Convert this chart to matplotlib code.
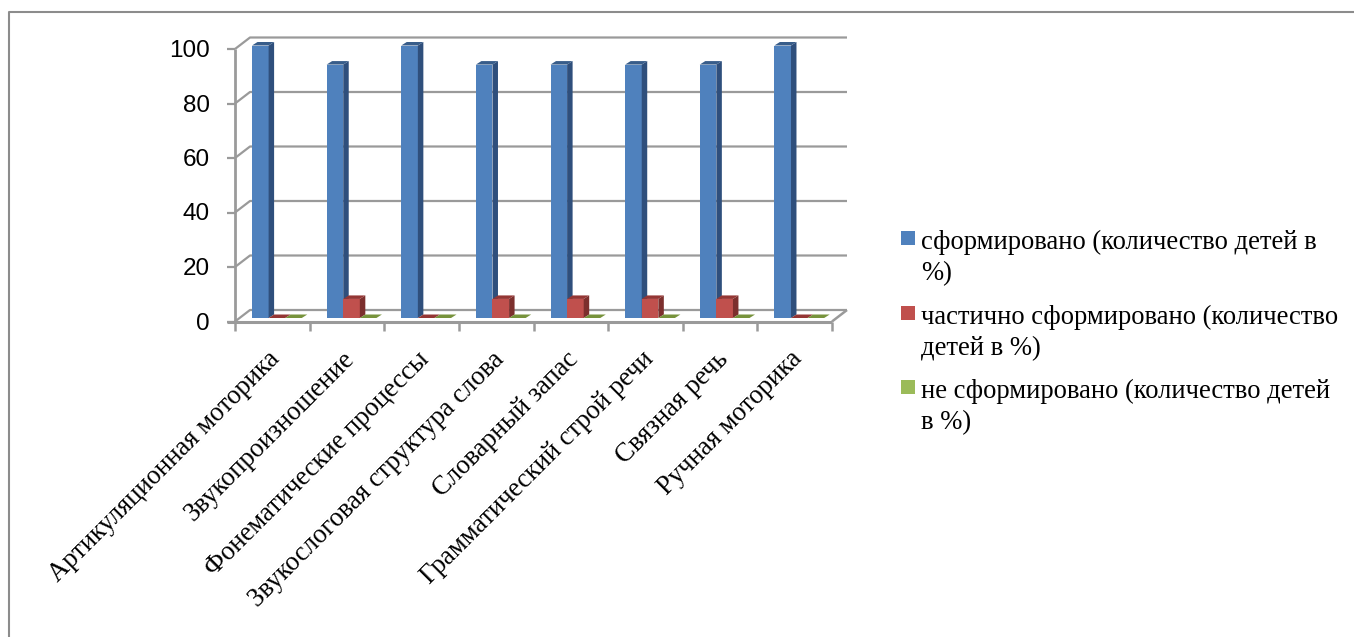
#!/usr/bin/env python
import matplotlib
matplotlib.use('Agg')
import matplotlib.pyplot as plt
from matplotlib.patches import Polygon, Rectangle
from matplotlib.transforms import Affine2D

W, H = 1354, 637

categories = ['Артикуляционная моторика', 'Звукопроизношение', 'Фонематические процессы',
              'Звукослоговая структура слова', 'Словарный запас', 'Грамматический строй речи',
              'Связная речь', 'Ручная моторика']
formed = [100, 93, 100, 93, 93, 93, 93, 100]
partly = [0, 7, 0, 7, 7, 7, 7, 0]
not_formed = [0, 0, 0, 0, 0, 0, 0, 0]
yticks = [0, 20, 40, 60, 80, 100]
legend_labels = ['сформировано (количество детей в\n%)',
                 'частично сформировано (количество\nдетей в %)',
                 'не сформировано (количество детей\nв %)']

front = ['#4F81BD', '#C0504D', '#9BBB59']
side = ['#2F4F7C', '#7C2F2D', '#64793A']
top = ['#385D8A', '#943634', '#77933C']
GREY = '#9A9A9A'

fig = plt.figure(figsize=(W / 100, H / 100), dpi=100, facecolor='white')
px = Affine2D().scale(1, -1).translate(0, H)  # top-left pixel coordinates

# image border
fig.add_artist(plt.Line2D([9, 9, W], [H, 12, 12], transform=px, color='#8C8C8C', lw=1.5))

x0, x1, y0, y1 = 235, 832, 321.5, 49
ax = fig.add_axes([x0 / W, 1 - y0 / H, (x1 - x0) / W, (y0 - y1) / H])
ax.set_xlim(0, len(categories))
ax.set_ylim(0, 100)
ax.axis('off')

step = (x1 - x0) / len(categories)
per_val = (y0 - y1) / 100
DX, DY = 15 / step, 11.5 / per_val   # wall depth in data units
dx, dy = 5.5 / step, 3.5 / per_val   # bar depth
base = 3.5 / per_val                 # front of bar sits above the front edge of the floor
bar_w = 16.6 / step
start = 17 / step


def line(xs, ys, lw=2, z=1):
    ax.plot(xs, ys, color=GREY, lw=lw, clip_on=False, zorder=z, solid_capstyle='butt')


# walls
for v in yticks:
    line([0, DX, len(categories) + DX], [v, v + DY, v + DY], lw=1.6)
    line([-8 / step, 0], [v, v], lw=1.6)
line([0, 0], [0, 100])
line([len(categories), len(categories) + DX], [0, DY], lw=1.8)
line([-8 / step, len(categories)], [0, 0], lw=2.2, z=6)
for i in range(len(categories) + 1):
    line([i, i], [0, -9 / per_val], lw=1.8)

for s, values in enumerate([formed, partly, not_formed]):
    for i, v in enumerate(values):
        left = i + start + s * bar_w
        right = left + bar_w
        z = 5 + s * 0.1 + i
        if v > 0:
            ax.bar(left, v, bar_w, bottom=base, align='edge', color=front[s],
                   linewidth=0, zorder=z, clip_on=False)
            ax.add_patch(Polygon([(right, base), (right + dx, base + dy), (right + dx, base + v + dy),
                                  (right, base + v)], closed=True, fc=side[s], ec='none',
                                 zorder=z, clip_on=False))
        ax.add_patch(Polygon([(left, base + v), (right, base + v), (right + dx, base + v + dy),
                              (left + dx, base + v + dy)], closed=True, fc=top[s], ec='none',
                             zorder=z, clip_on=False))

for v in yticks:
    ax.annotate(str(v), (0, v), xytext=(-25, -2), textcoords='offset pixels', ha='right', va='center',
                fontsize=17.5, family='Liberation Sans', color='black', annotation_clip=False)

for i, c in enumerate(categories):
    ax.annotate(c, (i + 0.5, 0), xytext=(4, -34), textcoords='offset pixels', rotation=45,
                rotation_mode='anchor', ha='right', va='center', fontsize=19.2,
                family='Liberation Serif', color='black', annotation_clip=False)

# legend
ly = [238, 313, 387]
for col, label, y in zip(front, legend_labels, ly):
    fig.add_artist(Rectangle((901, y - 7), 14, 14, transform=px, fc=col, ec='none'))
    fig.text(921, y - 8, label, transform=px, ha='left', va='top', fontsize=19.2,
             family='Liberation Serif', color='black', linespacing=1.3)

fig.savefig('out.png', dpi=100)
